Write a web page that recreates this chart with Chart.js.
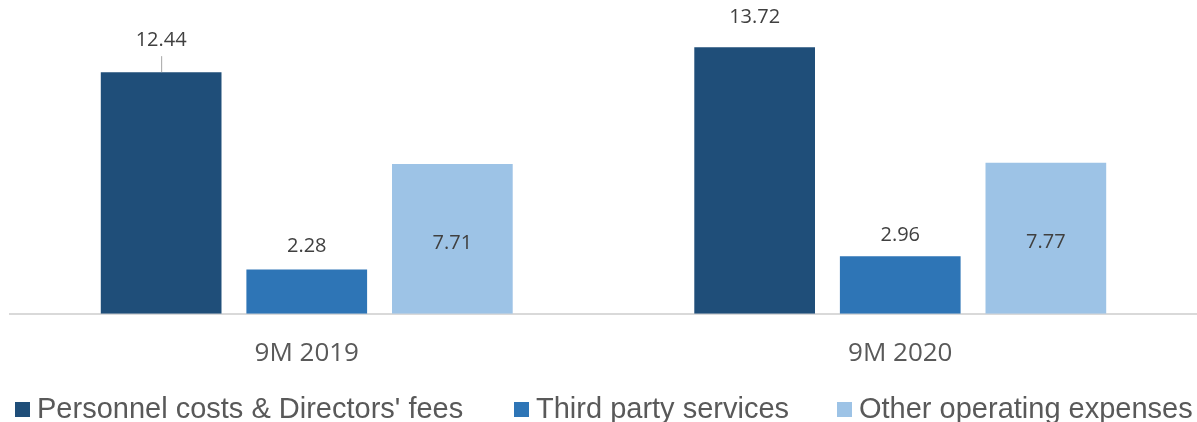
<!DOCTYPE html>
<html>
<head>
<meta charset="utf-8">
<script src="https://cdn.jsdelivr.net/npm/chart.js@4"></script>
<style>
  html, body { margin: 0; padding: 0; background: #fff; overflow: hidden; }
  #wrap { width: 1197px; height: 422px; position: relative; }
</style>
</head>
<body>
<div id="wrap"><canvas id="chart"></canvas></div>
<script>
'use strict';

const categories = ['9M 2019', '9M 2020'];
const seriesNames = ['Personnel costs & Directors\' fees', 'Third party services', 'Other operating expenses'];
const personnel = [12.44, 13.72];
const thirdParty = [2.28, 2.96];
const otherOpex = [7.71, 7.77];
const seriesColors = ['#1f4e79', '#2e75b6', '#9dc3e6'];

// draws the value labels and the legend the way the source slide does
const valueLabels = {
    id: 'valueLabels',
    afterDatasetsDraw(chart, args, opts) {
        const ctx = chart.ctx;
        ctx.save();
        ctx.font = '20px "Open Sans"';
        ctx.fillStyle = '#404040';
        ctx.textAlign = 'center';
        ctx.textBaseline = 'middle';
        chart.data.datasets.forEach((ds, i) => {
            const meta = chart.getDatasetMeta(i);
            meta.data.forEach((bar, j) => {
                const txt = ds.data[j].toFixed(2);
                const lift = opts.lift[i];
                if (lift == null) {
                    ctx.fillText(txt, bar.x, (bar.y + bar.base) / 2 + 4);
                } else {
                    const y = bar.y - lift[j];
                    ctx.fillText(txt, bar.x, y);
                    if (opts.leader[i] && opts.leader[i][j]) {
                        ctx.strokeStyle = '#a6a6a6';
                        ctx.lineWidth = 1;
                        ctx.beginPath();
                        ctx.moveTo(bar.x + 0.5, y + 16);
                        ctx.lineTo(bar.x + 0.5, bar.y);
                        ctx.stroke();
                    }
                }
            });
        });
        ctx.restore();
    }
};

const slideLegend = {
    id: 'slideLegend',
    afterDraw(chart, args, opts) {
        const ctx = chart.ctx;
        ctx.save();
        ctx.font = '29px "Liberation Sans"';
        ctx.textBaseline = 'alphabetic';
        ctx.textAlign = 'left';
        chart.data.datasets.forEach((ds, i) => {
            const x = opts.starts[i];
            ctx.fillStyle = ds.backgroundColor;
            ctx.fillRect(x, opts.baseline - 16, 15, 15);
            ctx.fillStyle = '#595959';
            ctx.fillText(ds.label, x + 22, opts.baseline);
        });
        ctx.restore();
    }
};

const ctx = document.getElementById('chart').getContext('2d');
const chart = new Chart(ctx, {
    type: 'bar',
    data: {
        labels: categories,
        datasets: [
            { label: seriesNames[0], data: personnel, backgroundColor: seriesColors[0] },
            { label: seriesNames[1], data: thirdParty, backgroundColor: seriesColors[1] },
            { label: seriesNames[2], data: otherOpex, backgroundColor: seriesColors[2] }
        ].map(d => Object.assign(d, { categoryPercentage: 0.736, barPercentage: 0.829 }))
    },
    options: {
        responsive: true,
        maintainAspectRatio: false,
        animation: false,
        layout: { padding: { left: 10, right: -3, top: 3, bottom: 29 } },
        scales: {
            x: {
                grid: { display: false, drawTicks: false },
                border: { display: true, color: '#d9d9d9', width: 2 },
                ticks: {
                    color: '#595959',
                    padding: 24,
                    font: { family: 'Open Sans', size: 26 }
                }
            },
            y: {
                display: false,
                min: 0,
                max: 16
            }
        },
        plugins: {
            legend: { display: false },
            tooltip: { enabled: false },
            valueLabels: {
                lift: [[32, 30], [23, 21], null],
                leader: [[true, false], null, null]
            },
            slideLegend: {
                starts: [15, 514, 837],
                baseline: 418
            }
        }
    },
    plugins: [valueLabels, slideLegend]
});
</script>
</body>
</html>
